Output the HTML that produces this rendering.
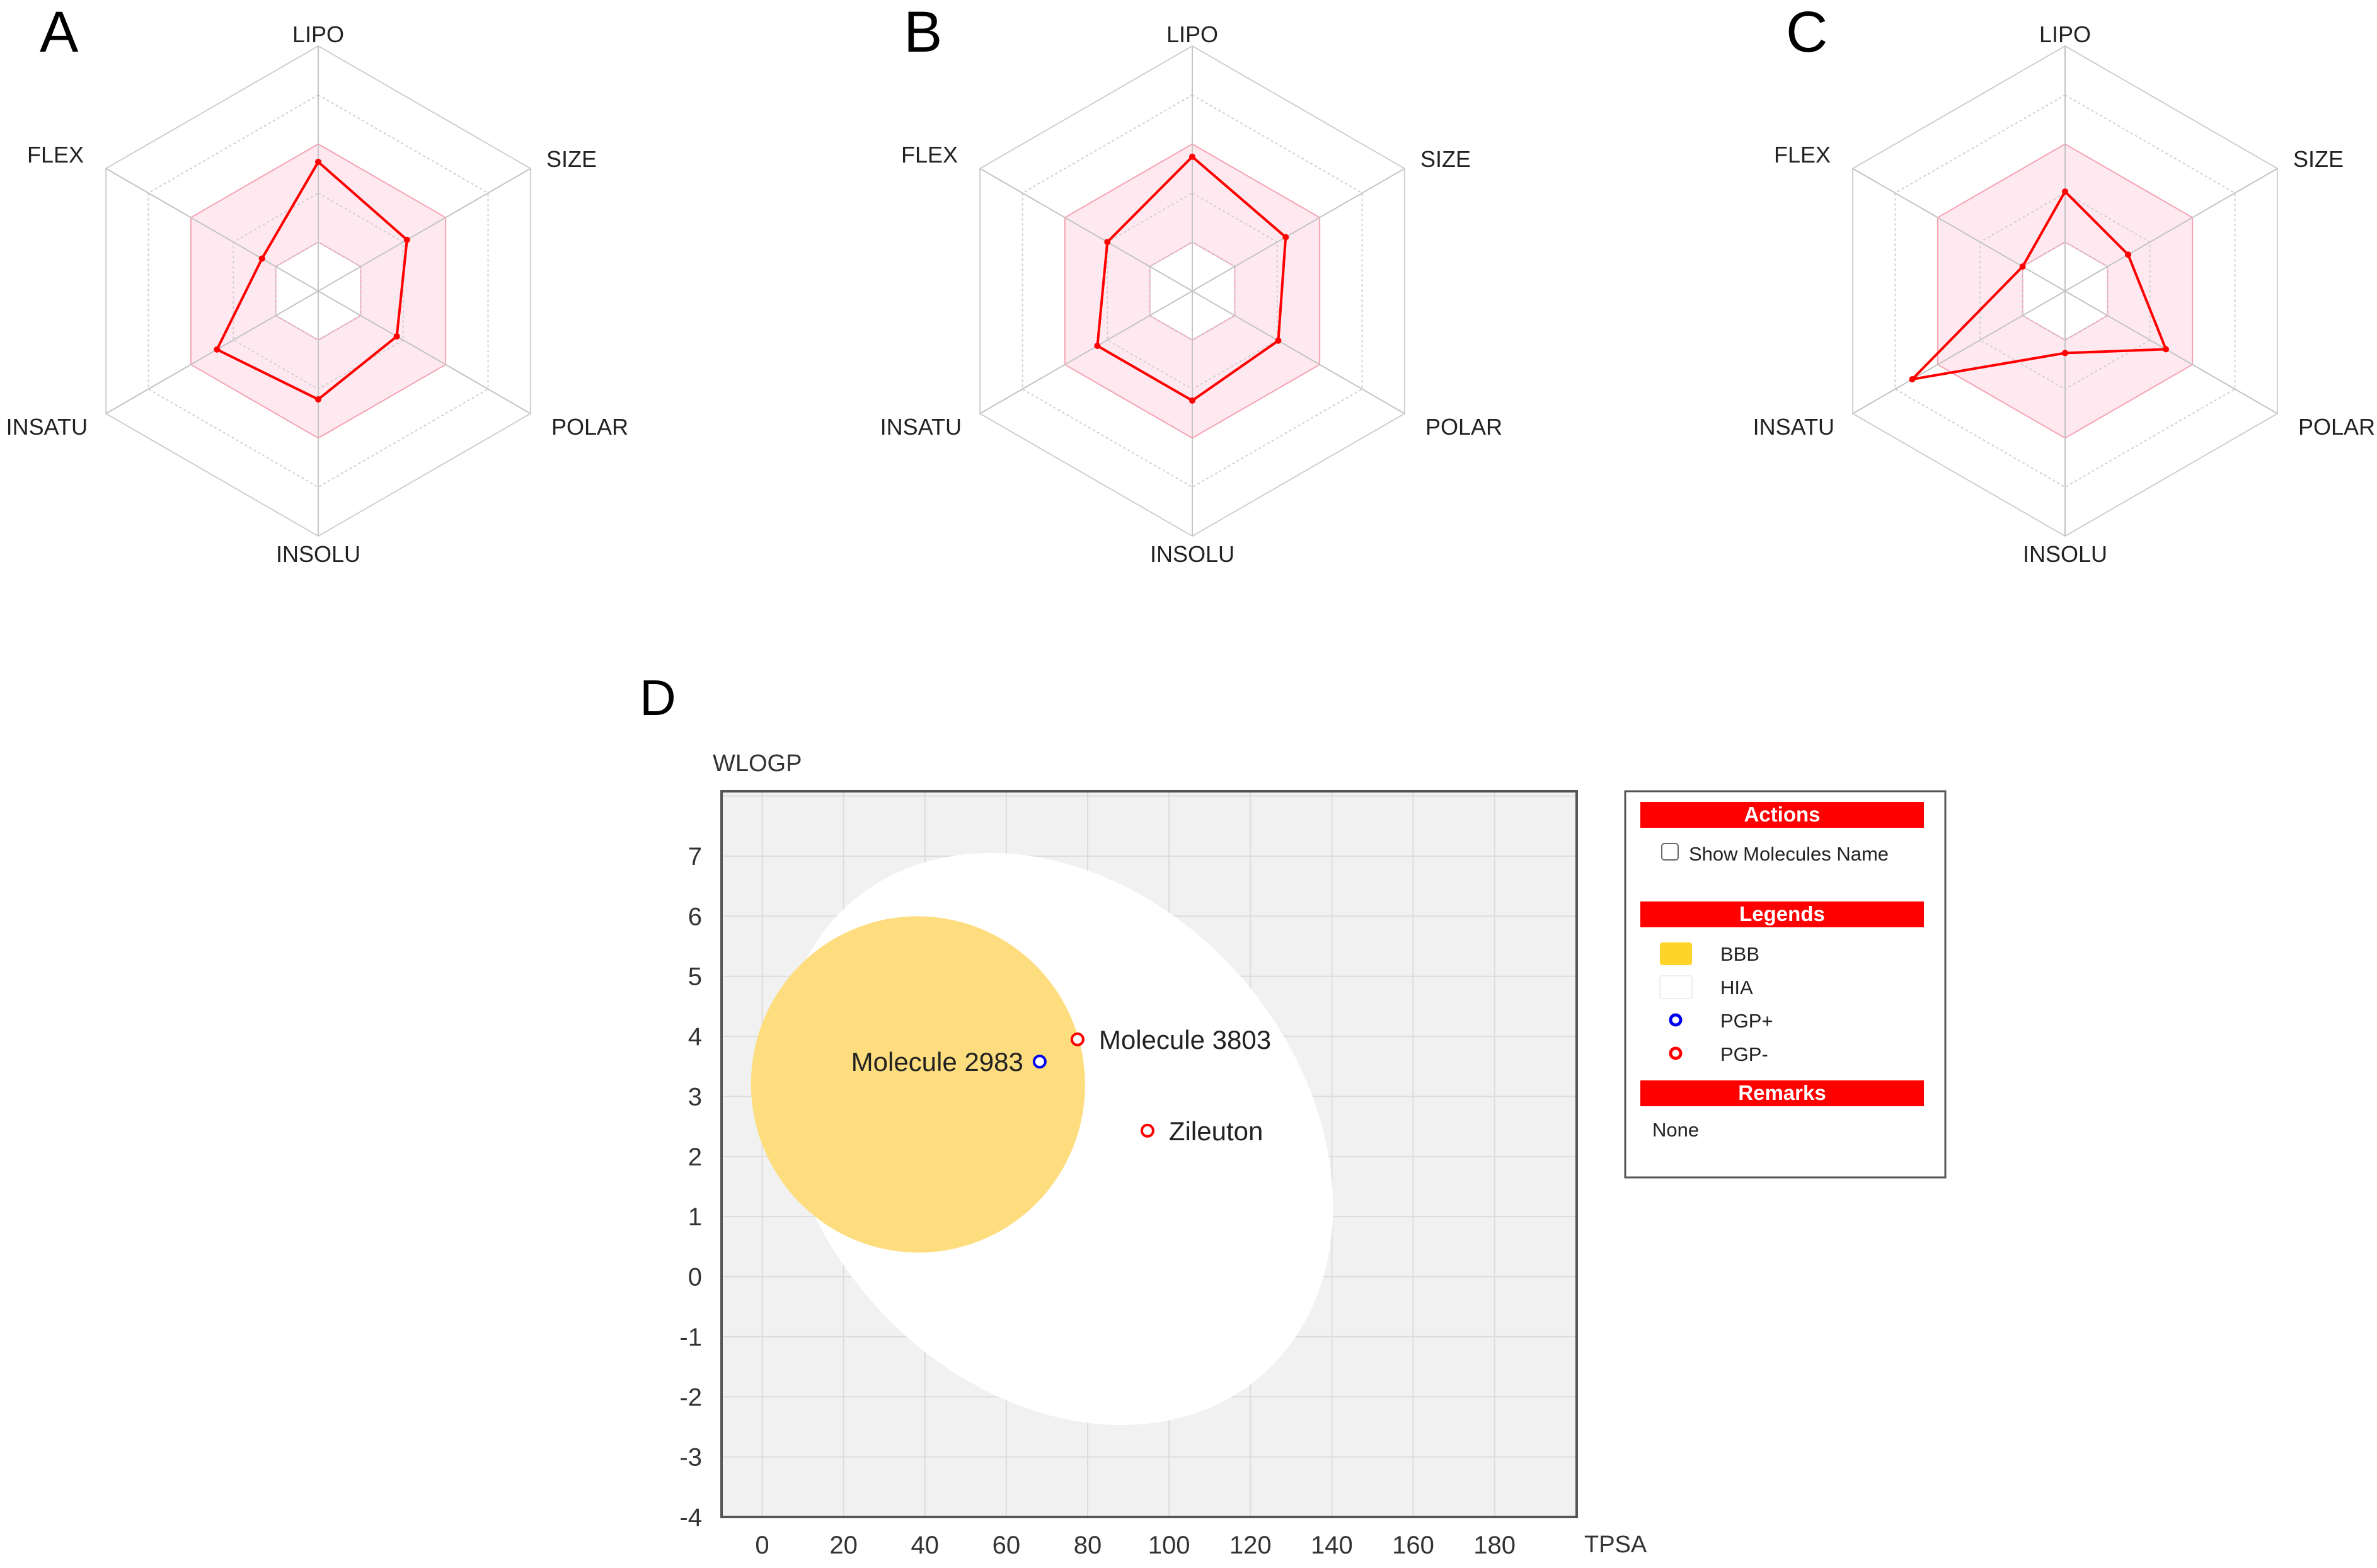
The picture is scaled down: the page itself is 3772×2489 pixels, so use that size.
<!DOCTYPE html>
<html><head><meta charset="utf-8"><style>
html,body{margin:0;padding:0;background:#fff;}
svg{display:block;font-family:"Liberation Sans","DejaVu Sans",sans-serif;}
</style></head><body>
<svg id="fig" width="3772" height="2489" viewBox="0 0 3772 2489" xmlns="http://www.w3.org/2000/svg">
<rect width="3772" height="2489" fill="#fff"/>
<g id="radars"></g>
<g id="plotD"></g>
</svg>
<script>
const NS='http://www.w3.org/2000/svg';
// ---- Radar data (fraction of max radius) ----
const radarAxes=['LIPO','SIZE','POLAR','INSOLU','INSATU','FLEX'];
const panelLetters=['A','B','C'];
const valuesA=[0.527,0.418,0.37,0.442,0.477,0.265];
const valuesB=[0.548,0.44,0.405,0.447,0.447,0.40];
const valuesC=[0.406,0.297,0.475,0.253,0.72,0.20];
// ---- Boiled-egg data ----
const molNames=['Molecule 2983','Molecule 3803','Zileuton'];
const molTPSA=[68.2,77.5,94.7];
const molWLOGP=[3.58,3.95,2.43];
const molPGP=['+','-','-'];
const xTicks=[0,20,40,60,80,100,120,140,160,180];
const yTicks=[-4,-3,-2,-1,0,1,2,3,4,5,6,7];

function el(tag,attrs,parent,text){const e=document.createElementNS(NS,tag);for(const k in attrs)e.setAttribute(k,attrs[k]);if(text!==undefined)e.textContent=text;parent.appendChild(e);return e;}

const radars=document.getElementById('radars');
const centersX=[505,1892,3277];
const letterX=[63,1434,2834];
const CY=462,R=389;
const allVals=[valuesA,valuesB,valuesC];
function vpt(cx,i,f){const a=-Math.PI/2+i*Math.PI/3;return [cx+Math.cos(a)*R*f,CY+Math.sin(a)*R*f];}
function ring(cx,f){const p=[];for(let i=0;i<6;i++)p.push(vpt(cx,i,f).join(','));return p.join(' ');}
const labelPos=[[0,-408,'middle'],[362,-210,'start'],[370,215,'start'],[0,417,'middle'],[-366,215,'end'],[-372,-217,'end']];
for(let p=0;p<3;p++){
  const cx=centersX[p];
  const g=el('g',{},radars);
  
  
  const band=el('path',{d:'M'+ring(cx,0.6).split(' ').join(' L')+' Z M'+ring(cx,0.2).split(' ').join(' L')+' Z',fill:'#ffe9f0','fill-rule':'evenodd',stroke:'#f5a3b3','stroke-width':2},g);
  
  
  for(let k=1;k<=5;k++){
    const r=el('polygon',{points:ring(cx,k/5),fill:'none',stroke:k===5?'#cfcfcf':'#d0d0d0','stroke-width':2,'stroke-dasharray':k===5?'none':'4 4'},g);
    if(k===3){r.setAttribute('stroke','none');}
    
    
  }
  for(let i=0;i<6;i++){
    const [x,y]=vpt(cx,i,1);
    const ln=el('line',{x1:cx,y1:CY,x2:x,y2:y,stroke:'#c4c4c4','stroke-width':2},g);
    
    
    const lp=labelPos[i];
    const t=el('text',{x:cx+lp[0],y:CY+lp[1]+13,'text-anchor':lp[2],'font-size':36,fill:'#222'},g,radarAxes[i]);
    
    
  }
  const vals=allVals[p];
  const pts=vals.map((v,i)=>vpt(cx,i,v));
  const poly=el('polygon',{points:pts.map(q=>q.join(',')).join(' '),fill:'none',stroke:'#ff0000','stroke-width':4},g);
  
  
  pts.forEach((q,i)=>{
    const c=el('circle',{cx:q[0],cy:q[1],r:5,fill:'#ff0000'},g);
    
    
  });
  const L=el('text',{x:letterX[p],y:82,'font-size':92,fill:'#000'},g,panelLetters[p]);
  
  
}

// ---- Plot D ----
const D=document.getElementById('plotD');
const X0=1145,X1=2502,Y0=1256,Y1=2408;
const xMin=-10,xMax=200.2,yMin=-4,yMax=8.08;
function sx(v){return X0+(v-xMin)/(xMax-xMin)*(X1-X0);}
function sy(v){return Y1-(v-yMin)/(yMax-yMin)*(Y1-Y0);}
const dl=el('text',{x:1015,y:1135,'font-size':80,fill:'#000'},D,'D');


const bg=el('rect',{x:X0,y:Y0,width:X1-X0,height:Y1-Y0,fill:'#f1f1f1'},D);


const clip=el('clipPath',{id:'pc'},D);el('rect',{x:X0,y:Y0,width:X1-X0,height:Y1-Y0},clip);
const inner=el('g',{'clip-path':'url(#pc)'},D);
xTicks.concat([200]).forEach(v=>{const l=el('line',{x1:sx(v),x2:sx(v),y1:Y0,y2:Y1,stroke:'#dcdcdc','stroke-width':2},inner);});
yTicks.concat([8]).forEach(v=>{const l=el('line',{x1:X0,x2:X1,y1:sy(v),y2:sy(v),stroke:'#dcdcdc','stroke-width':2},inner);});
const hia=el('ellipse',{cx:1676,cy:1808,rx:497,ry:390,transform:'rotate(49 1676 1808)',fill:'#ffffff'},inner);


const bbb=el('ellipse',{cx:sx(38.3),cy:sy(3.2),rx:265,ry:267,transform:'rotate(-10 '+sx(38.3)+' '+sy(3.2)+')',fill:'#fedd7f'},inner);


const bd=el('rect',{x:X0,y:Y0,width:X1-X0,height:Y1-Y0,fill:'none',stroke:'#555','stroke-width':4},D);


xTicks.forEach(v=>{const t=el('text',{x:sx(v),y:2466,'text-anchor':'middle','font-size':40,fill:'#333'},D,String(v));});
yTicks.forEach(v=>{const t=el('text',{x:1114,y:sy(v)+14,'text-anchor':'end','font-size':40,fill:'#333'},D,String(v));});
const yt=el('text',{x:1131,y:1224,'font-size':38,fill:'#333'},D,'WLOGP');
const xt=el('text',{x:2514,y:2464,'font-size':38,fill:'#333'},D,'TPSA');
molNames.forEach((n,i)=>{
  const x=sx(molTPSA[i]),y=sy(molWLOGP[i]);
  const c=el('circle',{cx:x,cy:y,r:9,fill:'#fff',stroke:molPGP[i]==='+'?'#0000ee':'#ff0000','stroke-width':4},D);
  
  
  const left=(i===0);
  const t=el('text',{x:left?x-26:x+34,y:y+15,'text-anchor':left?'end':'start','font-size':42,fill:'#222'},D,n);
  
  
});
const LG=el('g',{},D);


el('rect',{x:2579,y:1256,width:508,height:613,fill:'#fff',stroke:'#555','stroke-width':3},LG);
[['Actions',1273],['Legends',1431],['Remarks',1715]].forEach(h=>{
  const r=el('rect',{x:2603,y:h[1],width:450,height:41,fill:'#ff0000'},LG);
  
  
  const t=el('text',{x:2828,y:h[1]+31,'text-anchor':'middle','font-size':33,'font-weight':'bold',fill:'#fff'},LG,h[0]);
  
  
});
const cb=el('rect',{x:2637,y:1339,width:26,height:26,rx:4,fill:'#fff',stroke:'#666','stroke-width':2},LG);


const cbt=el('text',{x:2680,y:1366,'font-size':31,fill:'#222'},LG,'Show Molecules Name');


const sw1=el('rect',{x:2634,y:1496,width:51,height:36,rx:4,fill:'#ffd42a'},LG);
const sw2=el('rect',{x:2634,y:1549,width:51,height:36,rx:4,fill:'#fff',stroke:'#eee','stroke-width':2},LG);
const c1=el('circle',{cx:2659,cy:1619,r:8,fill:'#fff',stroke:'#0000ee','stroke-width':5},LG);
const c2=el('circle',{cx:2659,cy:1672,r:8,fill:'#fff',stroke:'#ff0000','stroke-width':5},LG);
[['BBB',1525],['HIA',1578],['PGP+',1631],['PGP-',1684]].forEach(e=>{
  const t=el('text',{x:2730,y:e[1],'font-size':31,fill:'#222'},LG,e[0]);
  
  
});
const none=el('text',{x:2622,y:1804,'font-size':31,fill:'#222'},LG,'None');


</script>
</body></html>
